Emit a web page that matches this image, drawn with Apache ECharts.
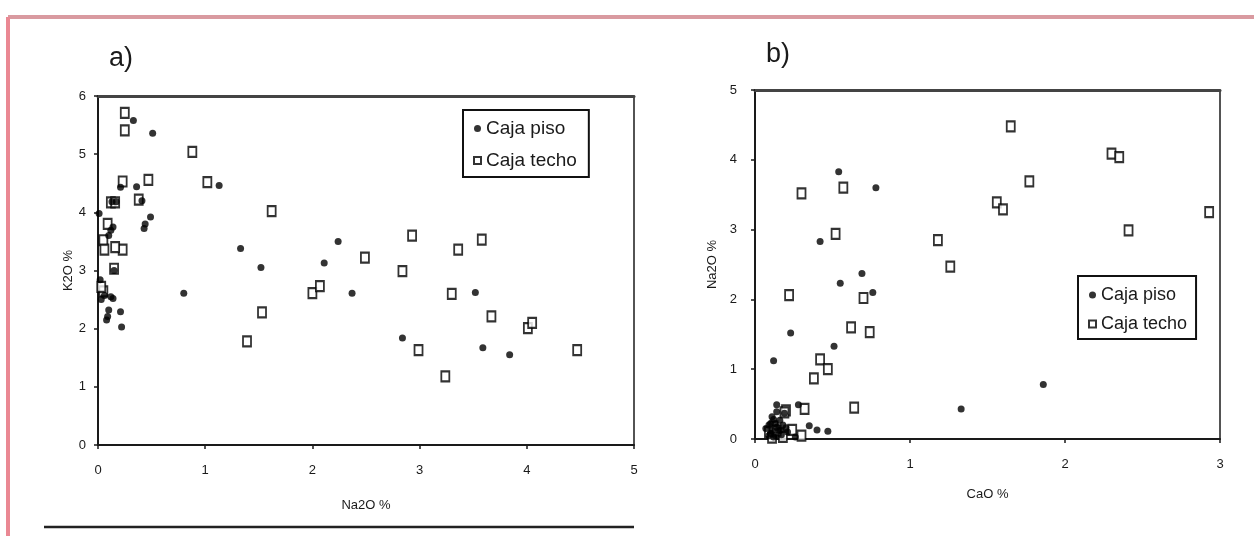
<!DOCTYPE html>
<html>
<head>
<meta charset="utf-8">
<script src="https://cdn.jsdelivr.net/npm/echarts@6/dist/echarts.min.js"></script>
<style>
  html, body { margin: 0; padding: 0; background: #fff; }
  #chart { width: 1254px; height: 536px; }
</style>
</head>
<body>
<div id="chart"></div>
<script>
// panel a) K2O vs Na2O
const aPisoNa2O = [0.33, 0.51, 0.36, 1.13, 0.21, 0.13, 0.17, 0.44, 0.49, 0.43, 0.12, 0.10, 0.14, 1.33, 1.52, 2.24, 2.11, 2.37, 0.80, 2.84, 3.52, 3.59, 3.84, 0.21, 0.22, 0.09, 0.08, 0.10, 0.14, 0.02, 0.01, 0.15, 0.03, 0.06, 0.12, 0.41];
const aPisoK2O  = [5.58, 5.36, 4.44, 4.46, 4.43, 4.18, 4.18, 3.80, 3.92, 3.72, 3.69, 3.60, 3.75, 3.38, 3.05, 3.50, 3.13, 2.61, 2.61, 1.84, 2.62, 1.67, 1.55, 2.29, 2.03, 2.21, 2.15, 2.32, 2.52, 2.84, 3.98, 3.00, 2.50, 2.57, 2.55, 4.20];
const aTechoNa2O = [0.25, 0.25, 0.88, 1.02, 0.47, 0.23, 0.38, 0.12, 0.16, 1.62, 0.09, 0.05, 0.23, 0.16, 0.06, 2.93, 3.58, 3.36, 2.49, 2.84, 2.00, 2.07, 3.30, 3.67, 4.01, 4.05, 1.53, 1.39, 2.99, 3.24, 4.47, 0.05, 0.15, 0.03];
const aTechoK2O  = [5.71, 5.41, 5.04, 4.52, 4.56, 4.53, 4.22, 4.17, 4.17, 4.02, 3.80, 3.52, 3.36, 3.40, 3.36, 3.60, 3.53, 3.36, 3.22, 2.99, 2.61, 2.73, 2.60, 2.21, 2.01, 2.10, 2.28, 1.78, 1.63, 1.18, 1.63, 2.64, 3.03, 2.72];

// panel b) Na2O vs CaO
const bPisoCaO  = [0.54, 0.78, 0.42, 0.69, 0.55, 0.76, 0.23, 0.51, 0.12, 1.86, 1.33, 0.28, 0.14, 0.47, 0.35, 0.40, 0.11, 0.13, 0.15, 0.10, 0.17, 0.07, 0.19, 0.14, 0.12, 0.16, 0.21, 0.26, 0.09, 0.13, 0.09, 0.11, 0.14, 0.18, 0.12, 0.16, 0.20, 0.10];
const bPisoNa2O = [3.83, 3.60, 2.83, 2.37, 2.23, 2.10, 1.52, 1.33, 1.12, 0.78, 0.43, 0.49, 0.49, 0.11, 0.19, 0.13, 0.32, 0.22, 0.13, 0.08, 0.06, 0.15, 0.37, 0.39, 0.03, 0.27, 0.10, 0.03, 0.20, 0.05, 0.05, 0.12, 0.17, 0.20, 0.28, 0.12, 0.16, 0.22];
const bTechoCaO  = [1.65, 2.30, 2.35, 1.77, 1.56, 1.60, 2.93, 2.41, 1.18, 1.26, 0.30, 0.57, 0.52, 0.22, 0.70, 0.62, 0.74, 0.42, 0.47, 0.38, 0.64, 0.32, 0.20, 0.24, 0.30, 0.09, 0.12, 0.16, 0.18, 0.11, 0.14, 0.19];
const bTechoNa2O = [4.48, 4.09, 4.04, 3.69, 3.39, 3.29, 3.25, 2.99, 2.85, 2.47, 3.52, 3.60, 2.94, 2.06, 2.02, 1.60, 1.53, 1.14, 1.00, 0.87, 0.45, 0.43, 0.41, 0.13, 0.05, 0.10, 0.18, 0.08, 0.03, 0.02, 0.12, 0.38];

const zip = (xs, ys) => xs.map((x, i) => [x, ys[i]]);

const FONT = '"Liberation Sans", Arial, sans-serif';
const INK = '#1a1a1a';

function bottomAxis(idx, max, name, gap, margin) {
  return {
    type: 'value', gridIndex: idx, min: 0, max: max, interval: 1,
    name: name, nameLocation: 'middle', nameGap: gap,
    nameTextStyle: { color: INK, fontSize: 13, fontFamily: FONT },
    axisLine: { show: true, onZero: false, lineStyle: { color: INK, width: 2 } },
    axisTick: { show: true, length: 4, lineStyle: { color: INK, width: 1.5 } },
    axisLabel: { color: INK, fontSize: 13, fontFamily: FONT, margin: margin },
    splitLine: { show: false }
  };
}

function topAxis(idx, max) {
  return {
    type: 'value', gridIndex: idx, position: 'top', min: 0, max: max, interval: 1,
    axisLine: { show: true, onZero: false, lineStyle: { color: '#444', width: 3 } },
    axisTick: { show: false }, axisLabel: { show: false }, splitLine: { show: false }
  };
}

function leftAxis(idx, max, name, gap, margin) {
  return {
    type: 'value', gridIndex: idx, min: 0, max: max, interval: 1,
    name: name, nameLocation: 'middle', nameGap: gap, nameRotate: 90,
    nameTextStyle: { color: INK, fontSize: 13, fontFamily: FONT },
    axisLine: { show: true, onZero: false, lineStyle: { color: INK, width: 2 } },
    axisTick: { show: true, length: 4, lineStyle: { color: INK, width: 1.5 } },
    axisLabel: { color: INK, fontSize: 13, fontFamily: FONT, margin: margin },
    splitLine: { show: false }
  };
}

function rightAxis(idx, max) {
  return {
    type: 'value', gridIndex: idx, position: 'right', min: 0, max: max, interval: 1,
    axisLine: { show: true, onZero: false, lineStyle: { color: INK, width: 1.5 } },
    axisTick: { show: false }, axisLabel: { show: false }, splitLine: { show: false }
  };
}

const pisoStyle = { color: '#000' };
const techoStyle = { color: '#fff', borderColor: '#000', borderWidth: 2 };

function legendAt(left, top, size, gap, pad) {
  return {
    orient: 'vertical', left: left, top: top,
    padding: pad, itemGap: gap,
    itemWidth: 7, itemHeight: 7,
    borderColor: '#111', borderWidth: 2,
    textStyle: { color: INK, fontSize: size, fontFamily: FONT },
    data: [{ name: 'Caja piso', icon: 'circle' }, { name: 'Caja techo', icon: 'rect' }]
  };
}

const chart = echarts.init(document.getElementById('chart'), null, { renderer: 'canvas' });

chart.setOption({
  animation: false,
  backgroundColor: '#fff',
  title: [
    { text: 'a)', left: 104, top: 40, textStyle: { color: INK, fontSize: 27, fontWeight: 'normal', fontFamily: FONT } },
    { text: 'b)', left: 761, top: 36, textStyle: { color: INK, fontSize: 27, fontWeight: 'normal', fontFamily: FONT } }
  ],
  legend: [
    legendAt(463, 110, 19, 13, [9, 12, 7, 10]),
    legendAt(1078, 276, 18, 11, [10, 9, 6, 10])
  ],
  grid: [
    { left: 98, right: 620, top: 96, bottom: 91 },
    { left: 755, right: 34, top: 90, bottom: 97 }
  ],
  xAxis: [
    bottomAxis(0, 5, 'Na2O %', 54, 19),
    bottomAxis(1, 3, 'CaO %', 49, 19),
    topAxis(0, 5),
    topAxis(1, 3)
  ],
  yAxis: [
    leftAxis(0, 6, 'K2O %', 20, 12),
    leftAxis(1, 5, 'Na2O %', 36, 18),
    rightAxis(0, 6),
    rightAxis(1, 5)
  ],
  series: [
    { name: 'Caja piso', type: 'scatter', z: 3, xAxisIndex: 0, yAxisIndex: 0, symbol: 'circle', symbolSize: 7, itemStyle: pisoStyle, data: zip(aPisoNa2O, aPisoK2O) },
    { name: 'Caja techo', type: 'scatter', z: 2, xAxisIndex: 0, yAxisIndex: 0, symbol: 'rect', symbolSize: [8, 10], itemStyle: techoStyle, data: zip(aTechoNa2O, aTechoK2O) },
    { name: 'Caja piso', type: 'scatter', z: 3, xAxisIndex: 1, yAxisIndex: 1, symbol: 'circle', symbolSize: 7, itemStyle: pisoStyle, data: zip(bPisoCaO, bPisoNa2O) },
    { name: 'Caja techo', type: 'scatter', z: 2, xAxisIndex: 1, yAxisIndex: 1, symbol: 'rect', symbolSize: [8, 10], itemStyle: techoStyle, data: zip(bTechoCaO, bTechoNa2O) }
  ],
  graphic: [
    // page frame remnants from the scanned figure
    { type: 'line', shape: { x1: 8, y1: 17, x2: 1254, y2: 17 }, style: { stroke: '#d99aa0', lineWidth: 4 } },
    { type: 'line', shape: { x1: 8, y1: 17, x2: 8, y2: 536 }, style: { stroke: '#ea8893', lineWidth: 4 } },
    { type: 'line', shape: { x1: 44, y1: 527, x2: 634, y2: 527 }, style: { stroke: '#222', lineWidth: 2.5 } }
  ]
});
</script>
</body>
</html>
